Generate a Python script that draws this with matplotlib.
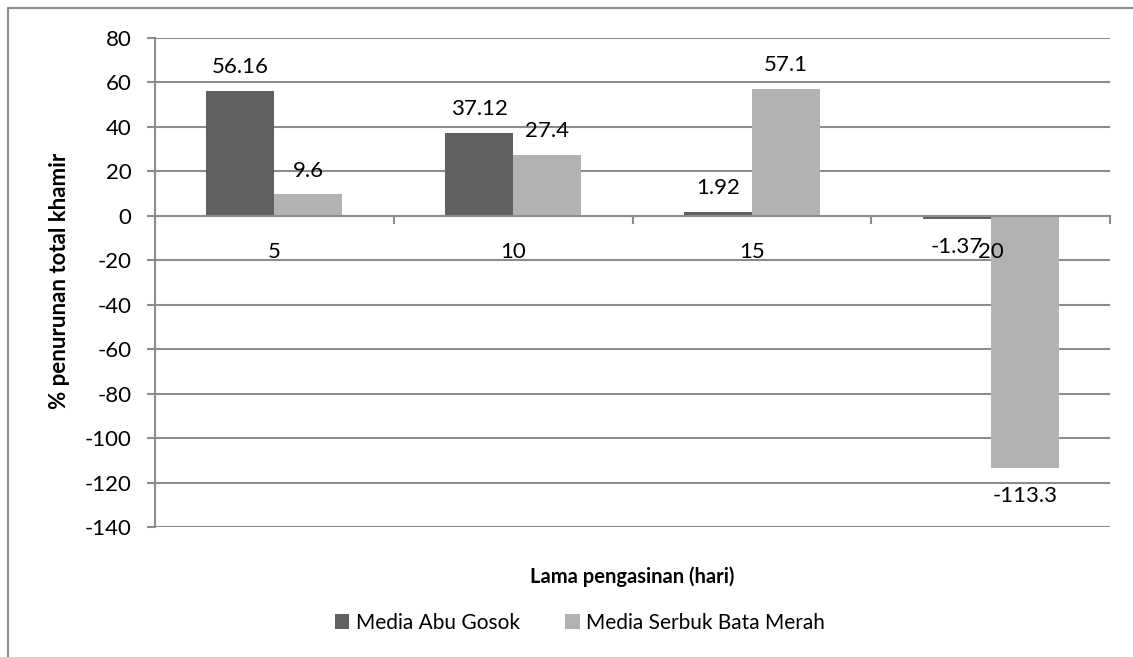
import matplotlib
matplotlib.use("Agg")
import matplotlib.pyplot as plt
import numpy as np
from matplotlib.patches import Rectangle, Patch

categories = ["5", "10", "15", "20"]
abu_gosok = [56.16, 37.12, 1.92, -1.37]
serbuk_bata = [9.6, 27.4, 57.1, -113.3]
series_names = ["Media Abu Gosok", "Media Serbuk Bata Merah"]
y_ticks = [80, 60, 40, 20, 0, -20, -40, -60, -80, -100, -120, -140]

plt.rcParams['font.family'] = ['Lato', 'DejaVu Sans']

W, H = 1133, 657
fig = plt.figure(figsize=(W / 100, H / 100), dpi=100)
ax = fig.add_axes([155 / W, 1 - 527 / H, (1110 - 155) / W, (527 - 38) / H])

dark = "#606060"
light = "#b2b2b2"
grid_c = "#8c8c8c"

x = np.arange(len(categories))
bw = 0.285
b1 = ax.bar(x - bw / 2, abu_gosok, bw, color=dark, zorder=2)
b2 = ax.bar(x + bw / 2, serbuk_bata, bw, color=light, zorder=2)

for bars, vals in ((b1, abu_gosok), (b2, serbuk_bata)):
    for r, v in zip(bars, vals):
        cx = r.get_x() + r.get_width() / 2
        if v >= 0:
            ax.annotate(f"{v:g}", (cx, v), xytext=(0, 10), textcoords="offset points",
                        ha="center", va="bottom", fontsize=16, zorder=5)
        else:
            ax.annotate(f"{v:g}", (cx, v), xytext=(0, -13), textcoords="offset points",
                        ha="center", va="top", fontsize=16, zorder=5)

ax.set_xlim(-0.5, len(categories) - 0.5)
ax.set_ylim(-140, 80)
ax.set_yticks(y_ticks)
ax.set_yticklabels([str(t) for t in y_ticks])
for t in y_ticks:
    ax.axhline(t, color=grid_c, linewidth=1.5, zorder=0.5)
ax.set_axisbelow(False)

for s in ("top", "right"):
    ax.spines[s].set_visible(False)
ax.spines["left"].set_color(grid_c)
ax.spines["left"].set_linewidth(1.5)
ax.spines["bottom"].set_position(("data", 0))
ax.spines["bottom"].set_color(grid_c)
ax.spines["bottom"].set_linewidth(1.5)

ax.set_xticks(x)
ax.set_xticklabels(categories)
ax.set_xticks(np.arange(len(categories) + 1) - 0.5, minor=True)
ax.tick_params(axis="x", which="major", length=0, pad=19, labelsize=16)
ax.tick_params(axis="x", which="minor", length=6, width=1.5, color=grid_c, direction="out")
ax.tick_params(axis="y", length=6, width=1.5, color=grid_c, pad=11, labelsize=16)

fig.text(59 / W, 1 - 281 / H, "% penurunan total khamir", rotation=90, ha="center",
         va="center", fontsize=16, fontweight="bold")
fig.text(632 / W, 1 - 577 / H, "Lama pengasinan (hari)", ha="center", va="center",
         fontsize=14.5, fontweight="bold")

handles = [Patch(facecolor=dark), Patch(facecolor=light)]
fig.legend(handles, series_names, loc="center", bbox_to_anchor=(580 / W, 1 - 623 / H),
           ncol=2, frameon=False, fontsize=15, handlelength=0.7, handleheight=0.7,
           handletextpad=0.3, columnspacing=2.2)

fig.patches.append(Rectangle((8 / W, -0.05), 1.2, 1 - 8 / H + 0.05, transform=fig.transFigure,
                             fill=False, edgecolor=grid_c, linewidth=1.5, zorder=0))

fig.savefig("out.png", dpi=100)
